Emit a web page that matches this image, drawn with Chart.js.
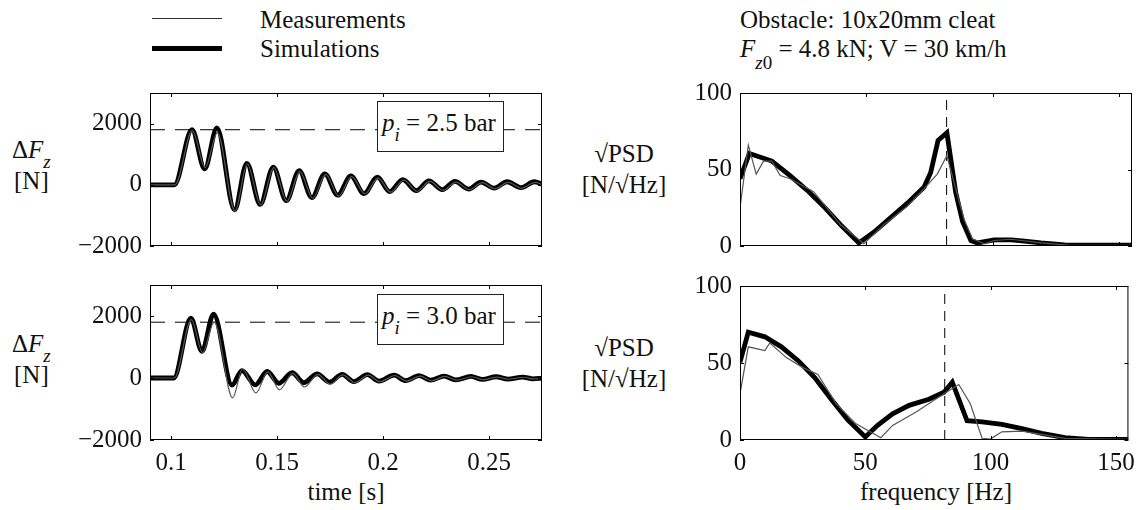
<!DOCTYPE html>
<html>
<head>
<meta charset="utf-8">
<script src="https://cdn.jsdelivr.net/npm/chart.js@4.4.1/dist/chart.umd.min.js"></script>
<style>
  html, body { margin: 0; padding: 0; background: #fff; }
  body { width: 1143px; height: 510px; position: relative; overflow: hidden;
         font-family: "Liberation Serif", "Times New Roman", serif; font-size: 25px; color: #111; }
  canvas { position: absolute; }
  .t { position: absolute; white-space: nowrap; line-height: 25px; }
  .c { text-align: center; }
  .sub { font-size: 19px; position: relative; top: 10px; }
  .box { position: absolute; background: #fff; border: 1px solid #222; z-index: 5; box-sizing: border-box; }
  .box .t { left: 4px; top: 8px; }
  .key { position: absolute; background: #000; }
</style>
</head>
<body>
<div class="key" style="left:152px;top:18px;width:70px;height:1px;background:#333"></div>
<div class="key" style="left:152px;top:46px;width:70px;height:5px"></div>
<div class="t" style="left:260px;top:7px">Measurements</div>
<div class="t" style="left:260px;top:36px">Simulations</div>
<div class="t" style="left:740px;top:7px">Obstacle: 10x20mm cleat</div>
<div class="t" style="left:740px;top:36px"><i>F</i><span class="sub" style="top:12px"><i>z</i>0</span> = 4.8 kN; V = 30 km/h</div>

<div class="t" style="left:12px;top:137px">&Delta;<i>F</i><span class="sub"><i>z</i></span></div>
<div class="t" style="left:14px;top:168px">[N]</div>
<div class="t" style="left:12px;top:331px">&Delta;<i>F</i><span class="sub"><i>z</i></span></div>
<div class="t" style="left:14px;top:362px">[N]</div>

<div class="t c" style="left:574px;width:100px;top:141px">&radic;PSD</div>
<div class="t c" style="left:574px;width:100px;top:172px">[N/&radic;Hz]</div>
<div class="t c" style="left:574px;width:100px;top:335px">&radic;PSD</div>
<div class="t c" style="left:574px;width:100px;top:366px">[N/&radic;Hz]</div>

<div class="t c" style="left:246px;width:200px;top:479px">time [s]</div>
<div class="t c" style="left:836px;width:200px;top:479px">frequency [Hz]</div>

<div class="box" style="left:377px;top:101px;width:127px;height:51px"><div class="t"><i>p</i><span class="sub"><i>i</i></span> = 2.5 bar</div></div>
<div class="box" style="left:377px;top:294px;width:127px;height:51px"><div class="t"><i>p</i><span class="sub"><i>i</i></span> = 3.0 bar</div></div>

<canvas id="c1" width="520" height="200" style="left:40px;top:70px"></canvas>
<canvas id="c2" width="520" height="218" style="left:40px;top:262px"></canvas>
<canvas id="c3" width="483" height="200" style="left:660px;top:70px"></canvas>
<canvas id="c4" width="483" height="217" style="left:660px;top:263px"></canvas>

<script>
// axes
const TIME_RANGE = [0.09, 0.275];
const TIME_TICKS = [0.1, 0.15, 0.2, 0.25];
const FORCE_RANGE = [-2000, 3000];
const FORCE_TICKS = [-2000, 0, 2000];
const FREQ_RANGE = [0, 155];
const FREQ_TICKS = [0, 50, 100, 150];
const PSD_RANGE = [0, 100];
const PSD_TICKS = [0, 50, 100];

// reference levels (dashed)
const REF_FORCE = 1800;
const REF_FREQ = 81.7;

// p_i = 2.5 bar, time domain
const t25Sim = [0.0900, 0.1015, 0.1098, 0.1158, 0.1216, 0.1299, 0.1357, 0.1420, 0.1482, 0.1543, 0.1604, 0.1664, 0.1725, 0.1786, 0.1848,
  0.1910, 0.1973, 0.2031, 0.2093, 0.2157, 0.2216, 0.2280, 0.2339, 0.2404, 0.2462, 0.2525, 0.2585, 0.2651, 0.2714, 0.2753];
const f25Sim = [0, 0, 1800, 520, 1860, -820, 700, -640, 580, -520, 460, -420, 360, -340, 290,
  -290, 250, -220, 170, -190, 130, -160, 110, -140, 90, -110, 100, -90, 100, 20];
const t25Meas = [0.0900, 0.1018, 0.1100, 0.1160, 0.1218, 0.1301, 0.1359, 0.1422, 0.1484, 0.1546, 0.1607, 0.1668, 0.1729, 0.1790, 0.1852,
  0.1914, 0.1976, 0.2036, 0.2098, 0.2160, 0.2221, 0.2283, 0.2344, 0.2407, 0.2467, 0.2529, 0.2590, 0.2654, 0.2718, 0.2753];
const f25Meas = [0, 0, 1770, 560, 1700, -860, 680, -660, 560, -540, 430, -440, 340, -360, 270,
  -300, 220, -240, 150, -210, 110, -180, 90, -160, 70, -130, 80, -110, 80, 0];

// p_i = 3.0 bar, time domain
const t30Sim = [0.0900, 0.1012, 0.1093, 0.1145, 0.1200, 0.1287, 0.1334, 0.1397, 0.1453, 0.1508, 0.1571, 0.1626, 0.1689, 0.1747, 0.1807,
  0.1862, 0.1926, 0.1981, 0.2052, 0.2107, 0.2170, 0.2225, 0.2288, 0.2343, 0.2414, 0.2470, 0.2533, 0.2588, 0.2659, 0.2706, 0.2753];
const f30Sim = [0, 0, 1930, 860, 2060, -230, 240, -220, 210, -170, 170, -150, 130, -130, 120,
  -120, 110, -100, 90, -85, 75, -70, 60, -60, 50, -45, 40, -35, 30, -25, 0];
const t30Meas = [0.0900, 0.1015, 0.1095, 0.1148, 0.1203, 0.1290, 0.1337, 0.1400, 0.1456, 0.1511, 0.1574, 0.1629, 0.1692, 0.1750, 0.1810,
  0.1866, 0.1930, 0.1985, 0.2056, 0.2111, 0.2174, 0.2229, 0.2292, 0.2347, 0.2418, 0.2474, 0.2537, 0.2592, 0.2663, 0.2710, 0.2753];
const f30Meas = [0, 0, 1880, 820, 1800, -640, 290, -480, 200, -380, 150, -290, 120, -200, 100,
  -150, 90, -120, 80, -100, 60, -90, 50, -70, 40, -55, 30, -40, 25, -30, 0];

// p_i = 2.5 bar, sqrt(PSD)
const fq25Sim = [0, 3.7, 12.6, 19.8, 26.5, 33.0, 39.7, 47.0, 52.9, 59.5, 66.2, 72.8, 75.4, 78.3, 81.8, 85.3, 88.0, 91.3, 93.9,
  100.5, 107.2, 112.5, 119.0, 128.3, 139.0, 155.0];
const psd25Sim = [44, 60.5, 55.5, 46, 36.5, 26, 14, 2, 9, 18.5, 28, 38.5, 48, 69, 74, 35, 16, 3.6, 2,
  4, 4, 3.2, 2, 0.8, 0.6, 0.6];
const fq25Meas = [0, 3.3, 6.4, 9.3, 12.6, 15.9, 19.8, 29.1, 39.7, 49.0, 56.9, 66.2, 72.8, 78.0, 81.8, 85.3, 88.6, 91.9, 96.6,
  100.5, 107.2, 119.0, 129.7, 155.0];
const psd25Meas = [25, 66, 47, 55.5, 55.5, 46, 44, 35.5, 14, 1.5, 14, 26, 37.5, 47, 59, 37.5, 17.5, 4.7, 1.5,
  3.6, 4.4, 2.1, 0.6, 0.4];

// p_i = 3.0 bar, sqrt(PSD)
const fq30Sim = [0, 3.3, 9.9, 16.5, 23.2, 29.8, 36.4, 43.0, 50.0, 54.9, 60.9, 67.5, 75.4, 81.4, 84.7, 87.3, 90.6, 96.6,
  104.5, 112.5, 120.4, 129.7, 139.0, 155.0];
const psd30Sim = [50.5, 70, 67, 60.5, 51.5, 40.5, 26.5, 13, 2, 9.5, 17, 22.5, 26.5, 31, 37.5, 26.5, 12.5, 11.7,
  10.2, 7.4, 4.3, 1.5, 0.4, 0.4];
const fq30Meas = [0, 3.3, 9.9, 11.9, 18.5, 25.1, 31.1, 38.4, 46.3, 56.2, 60.9, 70.1, 81.4, 87.3, 91.9, 96.6, 99.9,
  104.5, 112.5, 120.4, 129.7, 155.0];
const psd30Meas = [30, 60.5, 58, 63, 53.5, 47, 42.5, 23.5, 10.5, 1.5, 9.5, 18, 30, 36, 23.5, 1.1, 0.6,
  5.3, 5.7, 3.6, 1.1, 0.4];

const FONT = { family: "'Liberation Serif', 'Times New Roman', serif", size: 25 };

const pts = (xs, ys) => xs.map((x, i) => ({ x, y: ys[i] }));

// box + inward ticks on all four sides, like the original figure
const framePlugin = {
  id: "frame",
  afterDatasetsDraw(chart) {
    const { ctx, chartArea: a, scales } = chart;
    const x = scales.x, y = scales.y;
    ctx.save();
    ctx.strokeStyle = "#000";
    ctx.lineWidth = 1;
    ctx.strokeRect(a.left + 0.5, a.top + 0.5, a.right - a.left - 1, a.bottom - a.top - 1);
    ctx.beginPath();
    x.ticks.forEach((t) => {
      const px = Math.round(x.getPixelForValue(t.value)) + 0.5;
      ctx.moveTo(px, a.bottom); ctx.lineTo(px, a.bottom - 4);
      ctx.moveTo(px, a.top); ctx.lineTo(px, a.top + 4);
    });
    y.ticks.forEach((t) => {
      const py = Math.round(y.getPixelForValue(t.value)) + 0.5;
      ctx.moveTo(a.left, py); ctx.lineTo(a.left + 4, py);
      ctx.moveTo(a.right, py); ctx.lineTo(a.right - 4, py);
    });
    ctx.stroke();
    ctx.restore();
  },
};

const fmt = (v) => (v < 0 ? "\u2212" + Math.abs(v) : String(v));

function makeChart(id, opts) {
  const { meas, sim, ref, xRange, xTicks, yRange, yTicks, yWidth, xHeight, showX, padTop, padRight, smooth } = opts;
  const line = smooth ? { cubicInterpolationMode: "monotone" } : { tension: 0 };
  return new Chart(document.getElementById(id), {
    type: "line",
    data: {
      datasets: [
        { data: meas, borderColor: "#555", borderWidth: 1.2, pointRadius: 0, order: 0, ...line },
        { data: sim, borderColor: "#000", borderWidth: 4.8, pointRadius: 0, order: 1, ...line },
        { data: ref, borderColor: "#000", borderWidth: 1, borderDash: smooth ? [15, 10] : [10, 7], pointRadius: 0, order: 2, tension: 0 },
      ],
    },
    options: {
      responsive: false,
      animation: false,
      layout: { padding: { top: padTop, right: padRight, left: 0, bottom: 0 } },
      plugins: { legend: { display: false }, tooltip: { enabled: false } },
      scales: {
        x: {
          type: "linear", min: xRange[0], max: xRange[1],
          afterBuildTicks: (s) => { s.ticks = xTicks.map((v) => ({ value: v })); },
          afterFit: (s) => { s.height = xHeight; },
          grid: { display: false, drawTicks: false },
          border: { display: false },
          ticks: { display: showX, color: "#111", font: FONT, padding: 8, maxRotation: 0, callback: fmt },
        },
        y: {
          type: "linear", min: yRange[0], max: yRange[1],
          afterBuildTicks: (s) => { s.ticks = yTicks.map((v) => ({ value: v })); },
          afterFit: (s) => { s.width = yWidth; },
          grid: { display: false, drawTicks: false },
          border: { display: false },
          ticks: { color: "#111", font: FONT, padding: 8, callback: fmt },
        },
      },
    },
    plugins: [framePlugin],
  });
}

const refTime = pts(TIME_RANGE, [REF_FORCE, REF_FORCE]);
const refFreq = pts([REF_FREQ, REF_FREQ], PSD_RANGE);

makeChart("c1", {
  meas: pts(t25Meas, f25Meas), sim: pts(t25Sim, f25Sim), ref: refTime,
  xRange: TIME_RANGE, xTicks: TIME_TICKS, yRange: FORCE_RANGE, yTicks: FORCE_TICKS,
  yWidth: 110, xHeight: 24, showX: false, padTop: 18, padRight: 18, smooth: true,
});
makeChart("c2", {
  meas: pts(t30Meas, f30Meas), sim: pts(t30Sim, f30Sim), ref: refTime,
  xRange: TIME_RANGE, xTicks: TIME_TICKS, yRange: FORCE_RANGE, yTicks: FORCE_TICKS,
  yWidth: 110, xHeight: 40, showX: true, padTop: 20, padRight: 18, smooth: true,
});
makeChart("c3", {
  meas: pts(fq25Meas, psd25Meas), sim: pts(fq25Sim, psd25Sim), ref: refFreq,
  xRange: FREQ_RANGE, xTicks: FREQ_TICKS, yRange: PSD_RANGE, yTicks: PSD_TICKS,
  yWidth: 80, xHeight: 24, showX: false, padTop: 18, padRight: 11, smooth: false,
});
makeChart("c4", {
  meas: pts(fq30Meas, psd30Meas), sim: pts(fq30Sim, psd30Sim), ref: refFreq,
  xRange: FREQ_RANGE, xTicks: FREQ_TICKS, yRange: PSD_RANGE, yTicks: PSD_TICKS,
  yWidth: 80, xHeight: 40, showX: true, padTop: 20, padRight: 11, smooth: false,
});
</script>
</body>
</html>
